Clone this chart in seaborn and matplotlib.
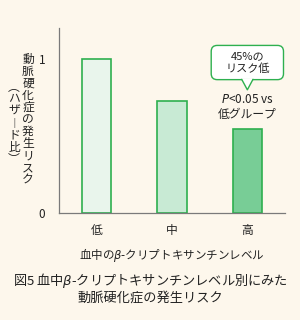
import matplotlib
matplotlib.use("Agg")
import matplotlib.pyplot as plt
import seaborn as sns
import pandas as pd
from matplotlib.patches import Polygon, FancyBboxPatch

categories = ["低", "中", "高"]
values = [1.0, 0.73, 0.545]
bar_colors = ["#e9f5ec", "#c8ead4", "#78cd96"]
ytick_vals = [0, 1]

sns.set_theme(style="white")
plt.rcParams["font.family"] = ["Noto Sans CJK JP", "DejaVu Sans"]
plt.rcParams["mathtext.fontset"] = "dejavusans"

bg = "#fdf7ec"
green = "#2eb04f"
axc = "#7a7a7a"
txt = "#222222"

fig = plt.figure(figsize=(3.0, 3.2), dpi=100, facecolor=bg)
ax = fig.add_axes([0.197, 0.334, 0.753, 0.578])
ax.set_facecolor(bg)

df = pd.DataFrame({"cat": categories, "val": values})
sns.barplot(data=df, x="cat", y="val", hue="cat", palette=bar_colors,
            order=categories, hue_order=categories, width=0.39, saturation=1,
            edgecolor=green, linewidth=1.2, legend=False, ax=ax)

ax.set_xlim(-0.5, 2.5)
ax.set_ylim(0, 1.2)
ax.set_yticks(ytick_vals)
ax.set_yticklabels([str(v) for v in ytick_vals], fontsize=8.5, color=txt)
ax.set_xticks([0.5, 1.5, 2.5], minor=False)
ax.set_xticklabels([])
ax.set_xticks([0, 1, 2], minor=True)
ax.set_xticklabels(categories, minor=True, fontsize=8.5, color=txt)
ax.tick_params(axis="x", which="major", direction="in", length=3, color=axc, width=0.8)
ax.tick_params(axis="x", which="minor", length=0, pad=8)
ax.tick_params(axis="y", direction="in", length=4, color=axc, width=0.8, pad=10)
for s in ["top", "right"]:
    ax.spines[s].set_visible(False)
for s in ["left", "bottom"]:
    ax.spines[s].set_color(axc)
    ax.spines[s].set_linewidth(0.9)
ax.set_xlabel("血中の$\\beta$-クリプトキサンチンレベル", fontsize=8.3, color=txt, labelpad=6)
ax.set_ylabel("")

# vertical y label (tategaki), one character per position
col1 = "動脈硬化症の発生リスク"
col2 = "︵ハザ︱ド比︶"
for i, ch in enumerate(col1):
    fig.text(28 / 300, 1 - (59 + 12.1 * i) / 320, ch, ha="center", va="center",
             fontsize=8.5, color=txt)
for i, ch in enumerate(col2):
    fig.text(14 / 300, 1 - (87 + 12.1 * i) / 320, ch, ha="center", va="center",
             fontsize=8.5, color=txt)

# callout box
px_x = 1 / 75.0
px_y = 1 / 154.0
box = FancyBboxPatch((1.52, 0.866), 0.96, 0.222,
                     boxstyle="round,pad=0,rounding_size=0.08",
                     mutation_aspect=px_y / px_x,
                     fc="white", ec=green, lw=1.0, zorder=4)
ax.add_patch(box)
tri = Polygon([[1.925, 0.872], [2.075, 0.872], [2.0, 0.80]], closed=True,
              fc="white", ec="none", zorder=5)
ax.add_patch(tri)
ax.plot([1.925, 2.0, 2.075], [0.868, 0.80, 0.868], color=green, lw=1.0, zorder=6)
ax.text(2.0, 0.977, "45%の\nリスク低", ha="center", va="center", fontsize=8,
        linespacing=1.25, color=txt, zorder=7)
ax.text(2.0, 0.69, "$P$<0.05 vs\n低グループ", ha="center", va="center",
        fontsize=8.5, linespacing=1.2, color=txt)

fig.text(0.5, 1 - 280 / 320, "図5 血中$\\beta$-クリプトキサンチンレベル別にみた",
         ha="center", va="center", fontsize=9.5, color=txt)
fig.text(0.5, 1 - 298 / 320, "動脈硬化症の発生リスク",
         ha="center", va="center", fontsize=9.5, color=txt)

fig.savefig("out.png", dpi=100, facecolor=bg)
